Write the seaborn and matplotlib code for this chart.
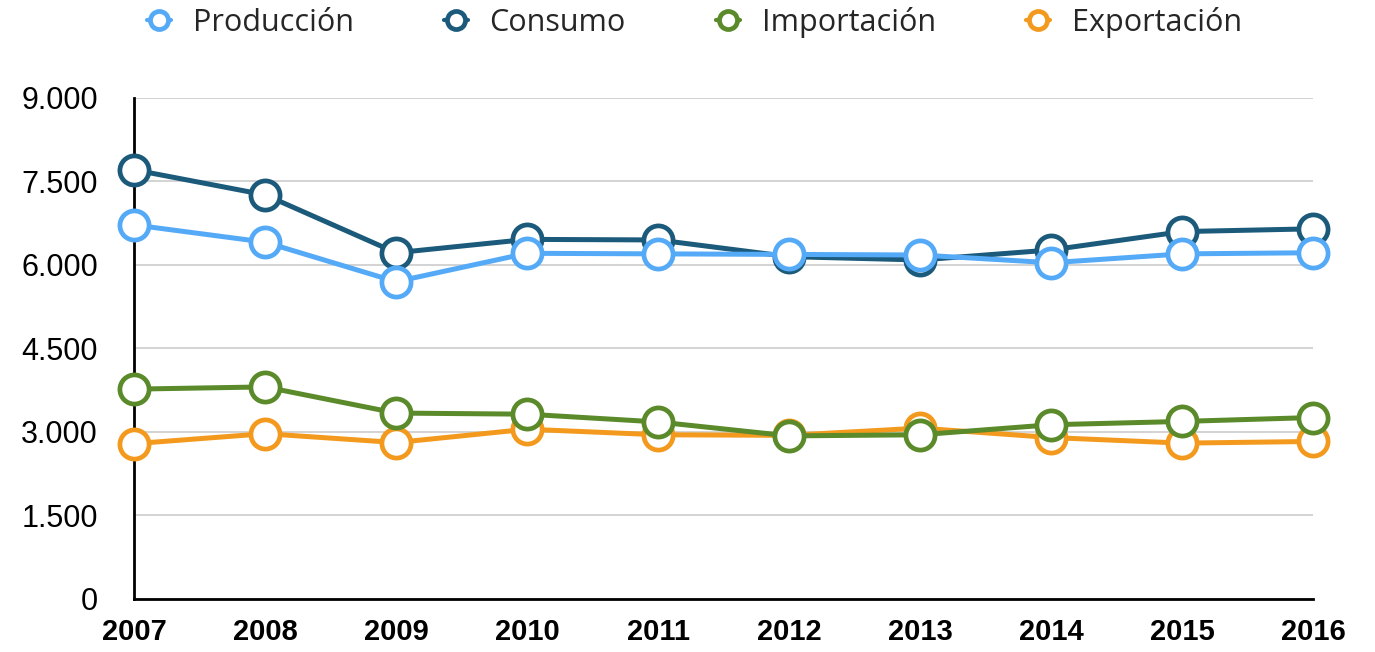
import matplotlib
matplotlib.use("Agg")
import matplotlib.pyplot as plt
import matplotlib.ticker as mticker
from matplotlib.lines import Line2D
import seaborn as sns
import pandas as pd

years = [2007, 2008, 2009, 2010, 2011, 2012, 2013, 2014, 2015, 2016]
produccion = [6720, 6410, 5700, 6210, 6200, 6190, 6180, 6040, 6200, 6220]
consumo = [7710, 7260, 6220, 6460, 6450, 6150, 6090, 6270, 6600, 6650]
importacion = [3770, 3810, 3340, 3320, 3180, 2930, 2950, 3130, 3190, 3260]
exportacion = [2790, 2970, 2810, 3050, 2950, 2940, 3070, 2900, 2800, 2830]
series_names = ["Producción", "Consumo", "Importación", "Exportación"]
series_values = [produccion, consumo, importacion, exportacion]
colors = ["#55AAF7", "#1B5A7A", "#5A8A2A", "#F39A1E"]
zorders = [4, 3, 6, 5]
yticks = [0, 1500, 3000, 4500, 6000, 7500, 9000]

sns.set_theme(style="white")
plt.rcParams["font.family"] = ["Liberation Sans", "DejaVu Sans"]

fig = plt.figure(figsize=(13.75, 6.52), dpi=100)
ax = fig.add_axes([0.0975, 0.0813, 0.8575, 0.7684])

for name, vals, col, z in zip(series_names, series_values, colors, zorders):
    df = pd.DataFrame({"Año": years, "Valor": vals})
    sns.lineplot(data=df, x="Año", y="Valor", ax=ax, color=col, linewidth=3.6,
                 marker="o", markersize=21, markerfacecolor="white",
                 markeredgecolor=col, markeredgewidth=3.4, clip_on=False,
                 zorder=z, legend=False)

ax.set_xlim(2007, 2016)
ax.set_ylim(0, 9000)
ax.set_yticks(yticks)
ax.yaxis.set_major_formatter(mticker.FuncFormatter(lambda v, p: f"{int(v):,}".replace(",", ".")))
ax.set_xticks(years)
ax.set_xticklabels([str(y) for y in years])
ax.grid(axis="y", color="#C8C8C8", linewidth=1.1)
ax.grid(axis="x", visible=False)
ax.set_xlabel("")
ax.set_ylabel("")
for s in ["top", "right"]:
    ax.spines[s].set_visible(False)
for s in ["left", "bottom"]:
    ax.spines[s].set_color("black")
    ax.spines[s].set_linewidth(2)
ax.tick_params(axis="y", length=0, pad=26, labelsize=22, labelcolor="black")
ax.tick_params(axis="x", length=0, pad=14, labelsize=21, labelcolor="black")
for lbl in ax.get_xticklabels():
    lbl.set_fontweight("bold")
    lbl.set_family(["Liberation Sans Narrow", "Liberation Sans", "DejaVu Sans"])

handles = [Line2D([0], [0], color=c, linewidth=3, marker="o", markersize=13,
                  markerfacecolor="white", markeredgecolor=c, markeredgewidth=3.4)
           for c in colors]
leg = fig.legend(handles, series_names, loc="center", bbox_to_anchor=(0.505, 0.966),
                 ncol=4, frameon=False, handlelength=0.8, handletextpad=0.7,
                 columnspacing=2.95, prop={"family": ["Open Sans", "DejaVu Sans"], "size": 22})

fig.savefig("out.png", dpi=100)
